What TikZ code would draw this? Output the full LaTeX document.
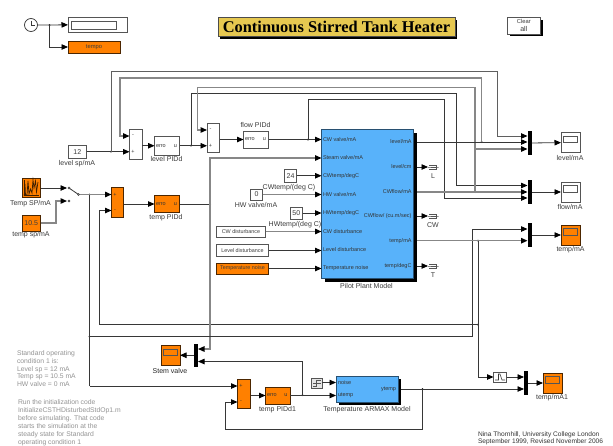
\documentclass[tikz,border=0pt]{standalone}
\usepackage{fontspec}
\setmainfont{Liberation Sans}
\newfontfamily\titlefont{Liberation Serif}
\usetikzlibrary{arrows.meta}
\definecolor{orng}{RGB}{255,128,0}
\definecolor{blu}{RGB}{88,178,250}
\definecolor{ylw}{RGB}{230,200,80}
\definecolor{dk}{RGB}{55,55,55}
\definecolor{md}{RGB}{95,95,95}
\definecolor{gy}{RGB}{135,135,135}
\definecolor{bd}{RGB}{85,85,85}
\definecolor{txt}{RGB}{60,60,60}
\tikzset{
  blk/.style={draw=bd,line width=0.8pt,fill=white,inner sep=0pt,outer sep=0pt,font=\fontsize{7}{8}\selectfont,text=txt},
  oblk/.style={blk,fill=orng,draw=black!70!orng},
  bblk/.style={blk,fill=blu,draw=black!55!blu},
  port/.style={inner sep=0pt,outer sep=0pt,font=\fontsize{5.5}{6}\selectfont,text=black!80},
  lbl/.style={inner sep=0pt,outer sep=0pt,font=\fontsize{7}{8}\selectfont,text=txt},
  note/.style={inner sep=0pt,outer sep=0pt,anchor=north west,align=left,font=\fontsize{6.8}{7.85}\selectfont,text=black!42},
  sig/.style={draw=dk,line width=0.8pt,-{Triangle[length=6.5pt,width=5.5pt,black]}},
  msig/.style={draw=md,line width=1pt,-{Triangle[length=6.5pt,width=5.5pt,black]}},
  gsig/.style={draw=gy,line width=1.3pt,-{Triangle[length=6.5pt,width=5.5pt,black]}},
  plain/.style={draw=dk,line width=0.8pt},
  gplain/.style={draw=gy,line width=1.3pt},
  muxbar/.style={fill=black,draw=none,inner sep=0pt,outer sep=0pt},
  contact/.style={circle,draw=dk,fill=white,line width=0.5pt,inner sep=0pt,minimum size=2pt,outer sep=0pt},
  icon/.style={blk,fill=black!10,line width=0.7pt}
}
\newcommand{\Blk}[7][blk]{%
  \pgfmathsetmacro{\cxx}{(#3+#5)/2}\pgfmathsetmacro{\cyy}{(#4+#6)/2}%
  \pgfmathsetmacro{\www}{#5-#3}\pgfmathsetmacro{\hhh}{#6-#4}%
  \node[#1,minimum width=\www pt,minimum height=\hhh pt,align=center] (#2) at (\cxx,\cyy) {#7};}
\newcommand{\Jn}[3]{\coordinate (#1) at (#2,#3);\fill[black] (#1) circle (1pt);}
\newcommand{\PID}[6][blk]{%
  \Blk[#1]{#2}{#3}{#4}{#5}{#6}{}%
  \node[port,anchor=west] (#2e) at ([xshift=1.5pt]#2.west) {erro};%
  \node[port,anchor=east] (#2u) at ([xshift=-2.5pt]#2.east) {u};}
\newcommand{\Scope}[6][blk]{%
  \Blk[#1]{#2}{#3}{#4}{#5}{#6}{}%
  \draw[draw=bd,line width=0.7pt] (#3+2.5,#4+3.5) rectangle (#5-2.5,#4+10);}
\newcommand{\Snk}[4]{%
  \Blk[icon]{#1}{#2}{#3-4}{#2+10.5}{#3+4}{}%
  \draw[draw=bd,line width=0.6pt] (#2+1,#3-2) -- (#2+8.5,#3-2) -- (#2+8.5,#3+2) -- (#2+1,#3+2) (#2+2.5,#3) -- (#2+8.5,#3);%
  \node[lbl] (#1t) at (#2+5,#3+9) {#4};}
\begin{document}
\begin{tikzpicture}[x=1pt,y=-1pt]
\clip (0,0) rectangle (613,445);
\fill[white] (0,0) rectangle (613,445);

% title and button
\fill[black] (220,20) rectangle (457,38.5);
\node[draw=black!70,fill=ylw,line width=0.7pt,minimum width=237pt,minimum height=19pt,inner sep=0pt,outer sep=0pt,font=\titlefont\bfseries\fontsize{16.4}{18}\selectfont] (title) at (336.5,26.5) {Continuous Stirred Tank Heater};
\fill[black] (510,19.5) rectangle (543,36);
\Blk{clear}{507}{17}{540.5}{34}{\fontsize{5.8}{7.5}\selectfont Clear\\all}

% clock group
\node[circle,draw=dk,fill=white,line width=0.7pt,minimum size=13pt,inner sep=0pt,outer sep=0pt] (clk) at (31,25) {};
\draw[dk,line width=0.6pt] (31,20.5) -- (31,25) -- (35,25);
\Blk{disp}{68}{17}{127}{32.5}{}
\draw[draw=bd,line width=0.7pt] (71,21) rectangle (116.5,29);
\Blk[oblk]{tempo}{68}{41}{120}{53}{\fontsize{5.8}{7}\selectfont tempo}
\Jn{jc}{49.5}{25}
\draw[sig] (clk) -- (disp);
\draw[sig] (jc) |- (tempo);

% sums and controllers, level/flow
\Blk{c12}{68}{145.5}{86.5}{158}{12}
\node[lbl] (c12t) at (77,163.5) {level sp/mA};
\Blk{sum1}{129.5}{129.5}{142}{159}{}
\node[port] (s1a) at (133,136) {-}; \node[port] (s1b) at (133,152) {+};
\PID{lpid}{154.5}{136.5}{179.5}{155}
\node[lbl] (lpidt) at (166.5,159) {level PIDd};
\Blk{sum2}{207}{123}{219.5}{152.5}{}
\node[port] (s2a) at (210.5,130) {-}; \node[port] (s2b) at (210.5,145.5) {+};
\PID{fpid}{243.5}{131}{268.5}{148}
\node[lbl] (fpidt) at (255.5,124.5) {flow PIDd};

% temperature source and switch
\Blk[oblk]{tsp}{22}{178.5}{40.5}{197.5}{}
\draw[black!75!orng,line width=0.7pt] (23.5,195) -- (25,195) -- (25,184) -- (25.5,195) -- (27,195) -- (28,181) -- (29,194) -- (30.5,189) -- (32,193) -- (33,180) -- (34,188) -- (35.5,181) -- (36.5,192) -- (38,182);
\draw[black!75!orng,line width=0.5pt] (24,180) -- (24,195.5) -- (39,195.5);
\node[lbl] (tspt) at (30.5,203.5) {Temp SP/mA};
\Blk[oblk]{c105}{22}{215}{40.5}{231}{10.5}
\node[lbl] (c105t) at (31,235) {temp sp/mA};
\node[contact] (sw1) at (69,188) {};
\node[contact] (sw2) at (69,201) {};
\node[contact] (swo) at (78.5,194.5) {};
\draw[plain] (sw1) -- (swo);
\draw[sig] (tsp.east |- 0,188) -- ([xshift=-1pt]sw1.west);
\draw[gsig] (c105) -| (56,201) -- ([xshift=-1pt]sw2.west);
\Blk[oblk]{sum3}{111.5}{187.5}{123.5}{217}{}
\node[port] (s3a) at (115,194.5) {+}; \node[port] (s3b) at (115,210.5) {-};
\PID[oblk]{tpid}{154.5}{195.5}{179.5}{212.5}
\node[lbl] (tpidt) at (166,218) {temp PIDd};

% pilot plant
\fill[black] (325,133) rectangle (416.5,281.5);
\Blk[bblk]{pilot}{321.5}{129.5}{413}{278}{}
\node[lbl] (pilott) at (366.5,286) {Pilot Plant Model};
\foreach \nm/\yy/\tt in {pa/139.5/CW valve{/}mA,pb/158/Steam valve{/}mA,pc/176.5/CWtemp{/}degC,pd/194.5/HW valve{/}mA,pe/213/HWtemp{/}degC,pf/231.5/CW disturbance,pg/250/Level disturbance,ph/268.5/Temperature noise}{
  \node[port,anchor=west] (\nm) at (323,\yy) {\tt};}
\foreach \nm/\yy/\tt in {oa/142/level{/}mA,ob/167/level{/}cm,oc/192/CWflow{/}mA,od/216/CWflow{/} (cu.m{/}sec),oe/240.7/temp{/}mA,of/266/temp{/}degC}{
  \node[port,anchor=east] (\nm) at (411.5,\yy) {\tt};}
\Snk{snkL}{428}{167}{L}
\Snk{snkC}{428}{216}{CW}
\Snk{snkT}{428}{266}{T}
\coordinate (pout) at (417,0);
\draw[sig] (pout |- snkL) -- (snkL.west);
\draw[sig] (pout |- snkC) -- (snkC.west);
\draw[sig] (pout |- snkT) -- (snkT.west);

% left input blocks
\Blk{c24}{284.5}{169.5}{296.5}{182}{24}
\node[lbl] (c24t) at (289,188) {CWtemp/(deg C)};
\Blk{c0}{250.5}{189}{262.5}{200}{0}
\node[lbl] (c0t) at (256,205) {HW valve/mA};
\Blk{c50}{290}{207}{302.5}{219}{50}
\node[lbl] (c50t) at (295,225) {HWtemp/(deg C)};
\Blk{dcw}{216.5}{226}{265.5}{237}{\fontsize{5.4}{6}\selectfont CW disturbance}
\Blk{dlv}{216.5}{244.5}{268.5}{256.5}{\fontsize{5.4}{6}\selectfont Level disturbance}
\Blk[oblk]{dtn}{216.5}{263}{268.5}{274}{\fontsize{5.4}{6}\selectfont Temperature noise}

% muxes and scopes
\Blk[muxbar]{mux1}{527.5}{131}{531.5}{155}{}
\Blk[muxbar]{mux2}{527.5}{180}{531.5}{204}{}
\Blk[muxbar]{mux3}{527.5}{223}{531.5}{247}{}
\Blk[muxbar]{mux4}{194}{343.5}{198}{367}{}
\Blk[muxbar]{mux5}{524}{371}{527.5}{395}{}
\Scope{sc1}{561}{132.5}{580}{152.5}
\node[lbl] (sc1t) at (570,158) {level/mA};
\Scope{sc2}{561}{182}{580}{202}
\node[lbl] (sc2t) at (570,207) {flow/mA};
\Scope[oblk]{sc3}{561}{225}{580}{245}
\node[lbl] (sc3t) at (570.5,250) {temp/mA};
\Scope[oblk]{sc4}{161}{345.5}{180}{365}
\node[lbl,text=black!85] (sc4t) at (170,370.5) {Stem valve};
\Scope[oblk]{sc5}{543}{373}{562}{393}
\node[lbl] (sc5t) at (552,398) {temp/mA1};

% lower loop
\Blk[oblk]{sum4}{237.5}{379}{250.5}{408.5}{}
\node[port] (s4a) at (241,386) {+}; \node[port] (s4b) at (241,402) {-};
\PID[oblk]{tpid1}{265.5}{387}{290}{404}
\node[lbl] (tpid1t) at (277.5,409.5) {temp PIDd1};
\Blk[icon]{nsrc}{311.5}{378}{322}{388}{}
\draw[bd,line width=0.5pt] (313,386) -- (316.5,386) -- (316.5,380.5) -- (320.5,380.5) (313,383) -- (320.5,383);
\fill[black] (338.5,378.5) rectangle (400.5,405);
\Blk[bblk]{armax}{336}{376}{398}{402.5}{}
\node[port,anchor=west] (an) at (338,382.5) {noise};
\node[port,anchor=west] (au) at (338,395) {utemp};
\node[port,anchor=east] (ay) at (396,389) {ytemp};
\node[lbl] (armaxt) at (367,410) {Temperature ARMAX Model};
\Blk{rate}{493.5}{372}{506.5}{382}{}
\draw[dk,line width=0.6pt] (495,380) -- (498.5,380) -- (498.5,374) -- (500,374) -- (502,380) -- (505,380);

% junctions
\Jn{ja}{111}{151.5}
\Jn{jb}{481.5}{142}
\Jn{jc1}{475}{149}
\Jn{jc2}{475}{192}
\Jn{jd}{191}{145.5}
\Jn{je}{308}{139.5}
\Jn{jt}{210}{204}
\Jn{js}{89.5}{194.5}
\Jn{jm}{89.5}{336.5}
\Jn{jo}{478}{240.7}
\Jn{jf}{478}{324.5}
\Jn{jp}{302.5}{395}
\Jn{jy}{422.5}{389}

% connectors: level and flow loops
\draw[sig] (c12) -- (sum1.west |- c12);
\draw[msig] (ja) -- (111,71.5) -- (497,71.5) -- (497,136) -- (mux1.west |- 0,136);
\draw[gsig] (jb) -- (481.5,78) -- (120,78) -- (120,136) -- (sum1.west |- 0,136);
\draw[sig] (sum1.east |- lpid) -- (lpid.west);
\draw[sig] (lpid) -- (sum2.west |- lpid);
\draw[sig] (jd) -- (191,93) -- (456,93) -- (456,185.5) -- (mux2.west |- 0,185.5);
\draw[gsig] (jc2) -- (475,87.5) -- (197.5,87.5) -- (197.5,130) -- (sum2.west |- 0,130);
\draw[gsig] (jc1) -- (mux1.west |- jc1);
\draw[sig] (sum2.east |- fpid) -- (fpid.west);
\draw[sig] (fpid) -- (pilot.west |- fpid);
\draw[sig] (je) -- (308,99.5) -- (444.5,99.5) -- (444.5,198) -- (mux2.west |- 0,198);

% connectors: temperature
\draw[gplain] (swo) -- (js);
\draw[gsig] (js) -- (sum3.west |- js);
\draw[plain] (js) -- (89.5,386);
\draw[sig] (89.5,386) -- (sum4.west |- 0,386);
\draw[sig] (jf) -- (99.5,324.5) -- (99.5,210.5) -- (sum3.west |- 0,210.5);
\draw[sig] (sum3.east |- tpid) -- (tpid.west);
\draw[plain] (tpid) -- (jt);
\draw[gsig] (jt) -- (210,158) -- (pilot.west |- 0,158);
\draw[gsig] (jt) -- (210,349) -- (mux4.east |- 0,349);
\draw[sig] (jm) -- (472.5,336.5) -- (472.5,229) -- (mux3.west |- 0,229);

% connectors: plant inputs
\draw[sig] (c24) -- (pilot.west |- c24);
\draw[gsig] (c0) -- (pilot.west |- c0);
\draw[sig] (c50) -- (pilot.west |- c50);
\draw[gsig] (dcw) -- (pilot.west |- dcw);
\draw[sig] (dlv) -- (pilot.west |- dlv);
\draw[sig] (dtn) -- (pilot.west |- dtn);

% connectors: plant outputs
\draw[sig] (pout |- 0,142) -- (mux1.west |- 0,142);
\draw[gsig] (pout |- 0,192) -- (mux2.west |- 0,192);
\draw[gsig] (pout |- 0,240.7) -- (mux3.west |- 0,240.7);
\draw[sig] (mux1) -- (sc1);
\draw[sig] (mux2) -- (sc2);
\draw[sig] (mux3) -- (sc3);
\draw[sig] (mux4) -- (sc4);
\draw[sig] (mux5) -- (sc5);

% connectors: lower loop
\draw[sig] (sum4.east |- tpid1) -- (tpid1.west);
\draw[sig] (tpid1) -- (armax.west |- tpid1);
\draw[sig] (jp) -- (302.5,361.5) -- (mux4.east |- 0,361.5);
\draw[sig] (nsrc.east |- 0,382.5) -- (armax.west |- 0,382.5);
\draw[sig] (400.5,389) -- (mux5.west |- 0,389);
\draw[sig] (jy) -- (422.5,429.5) -- (225.5,429.5) -- (225.5,402) -- (sum4.west |- 0,402);
\draw[sig] (jo) -- (478,377) -- (rate.west);
\draw[sig] (rate) -- (mux5.west |- rate);

% notes
\node[note] (n1) at (17,350.5) {Standard operating\\condition 1 is:\\Level sp = 12 mA\\Temp sp = 10.5 mA\\HW valve = 0 mA};
\node[note] (n2) at (18,400) {Run the initialization code\\InitializeCSTHDisturbedStdOp1.m\\before simulating. That code\\starts the simulation at the\\steady state for Standard\\operating condition 1};
\node[note,text=black!80,font=\fontsize{6.6}{7.2}\selectfont] (n3) at (478,431.5) {Nina Thornhill, University College London\\September 1999, Revised November 2006};
\end{tikzpicture}
\end{document}
